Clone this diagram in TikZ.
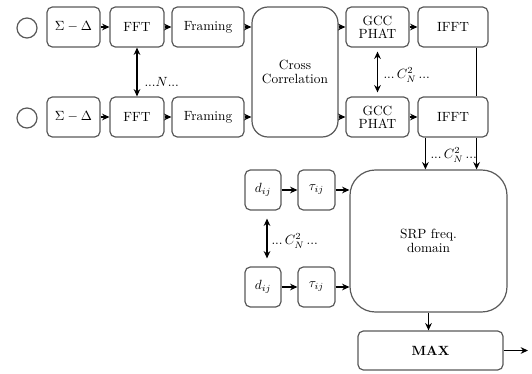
\documentclass[tikz,border=0pt]{standalone}
\usetikzlibrary{arrows.meta}
\tikzset{every picture/.style={line width=0.75pt}}
\tikzset{
  blk/.style={draw=black!65, rounded corners=4pt, line width=0.9pt, align=center, inner sep=1pt},
  con/.style={line width=1pt, -{Stealth[length=5.5pt,width=5pt]}},
  dcon/.style={line width=1pt, {Stealth[length=5.5pt,width=5pt]}-{Stealth[length=5.5pt,width=5pt]}},
}

\begin{document}
\begin{tikzpicture}[x=0.75pt,y=0.75pt,yscale=-1,xscale=1]
\useasboundingbox (0,0) rectangle (532,374);

%Circles
\node [draw=black!65, circle, line width=0.9pt, minimum size=15pt, inner sep=0pt] (mic1) at (27,28) {};
\node [draw=black!65, circle, line width=0.9pt, minimum size=15pt, inner sep=0pt] (mic2) at (27,118) {};

%Upper row
\node [blk, minimum width=39.75pt, minimum height=30pt] (sd1) at (73.5,27) {$\Sigma-\Delta$};
\node [blk, minimum width=40.5pt, minimum height=30pt] (fft1) at (137,27) {FFT};
\node [blk, minimum width=54pt, minimum height=30pt] (frm1) at (208,27) {Framing};
\node [blk, minimum width=47.25pt, minimum height=30pt] (gcc1) at (377.5,27) {GCC\\[-2pt]PHAT};
\node [blk, minimum width=52.5pt, minimum height=30pt] (ifft1) at (453,27) {IFFT};

%Lower row
\node [blk, minimum width=39.75pt, minimum height=30pt] (sd2) at (73.5,117) {$\Sigma-\Delta$};
\node [blk, minimum width=40.5pt, minimum height=30pt] (fft2) at (137,117) {FFT};
\node [blk, minimum width=54pt, minimum height=30pt] (frm2) at (208,117) {Framing};
\node [blk, minimum width=47.25pt, minimum height=30pt] (gcc2) at (377.5,117) {GCC\\[-2pt]PHAT};
\node [blk, minimum width=52.5pt, minimum height=30pt] (ifft2) at (453,117) {IFFT};

%Cross correlation
\node [blk, rounded corners=12pt, minimum width=64.5pt, minimum height=97.5pt] (cc) at (295,72) {Cross\\[-2pt]Correlation};

%Delay blocks
\node [blk, minimum width=27pt, minimum height=30pt] (d1) at (263,190) {$d_{ij}$};
\node [blk, minimum width=27.75pt, minimum height=30pt] (t1) at (316.5,190) {$\tau_{ij}$};
\node [blk, minimum width=27pt, minimum height=30pt] (d2) at (263,287) {$d_{ij}$};
\node [blk, minimum width=27.75pt, minimum height=30pt] (t2) at (316.5,287) {$\tau_{ij}$};

%SRP and max
\node [blk, rounded corners=19pt, minimum width=117.75pt, minimum height=106.5pt] (srp) at (428.5,241) {SRP freq.\\[-2pt]domain};
\node [blk, minimum width=108.75pt, minimum height=29.25pt] (max) at (430.5,350.5) {\textbf{MAX}};
\coordinate (out) at (528,350.5);

%Row arrows
\draw [con] (sd1) -- (fft1);
\draw [con] (fft1) -- (frm1);
\draw [con] (frm1.east) -- (cc.west |- frm1);
\draw [con] (cc.east |- gcc1) -- (gcc1.west);
\draw [con] (gcc1) -- (ifft1);
\draw [con] (sd2) -- (fft2);
\draw [con] (fft2) -- (frm2);
\draw [con] (frm2.east) -- (cc.west |- frm2);
\draw [con] (cc.east |- gcc2) -- (gcc2.west);
\draw [con] (gcc2) -- (ifft2);

%Vertical links
\draw [dcon] (fft1) -- (fft2);
\draw [dcon, shorten <=3pt, shorten >=3pt] (gcc1) -- (gcc2);
\coordinate (r1) at ([xshift=-9pt]ifft1.south east);
\coordinate (r2) at ([xshift=-9pt]ifft2.south east);
\coordinate (l2) at ([xshift=6pt]ifft2.south west);
\draw [line width=1pt] (r1) -- (r1 |- ifft2.north);
\draw [con] (r2) -- (r2 |- srp.north);
\draw [con] (l2) -- (l2 |- srp.north);
\coordinate (dd1) at ([xshift=3pt]d1.south);
\draw [dcon, shorten <=6pt, shorten >=6pt] (dd1) -- (dd1 |- d2.north);

%Delay arrows
\draw [con] (d1) -- (t1);
\draw [con] (t1) -- (t1 -| srp.west);
\draw [con] (d2) -- (t2);
\draw [con] (t2) -- (t2 -| srp.west);

%Output
\draw [con] (srp.south) -- (srp.south |- max.north);
\draw [con] (max) -- (out);

% Text Node
\draw (143,82) node [anchor=west][inner sep=0.75pt] {...$N$...};
% Text Node
\draw (382,75) node [anchor=west][inner sep=0.75pt] {...\,$C_N^2$\,...};
% Text Node
\draw (429,155) node [anchor=west][inner sep=0.75pt] {...\,$C_N^2$\,...};
% Text Node
\draw (270,241) node [anchor=west][inner sep=0.75pt] {...\,$C_N^2$\,...};

\end{tikzpicture}
\end{document}
